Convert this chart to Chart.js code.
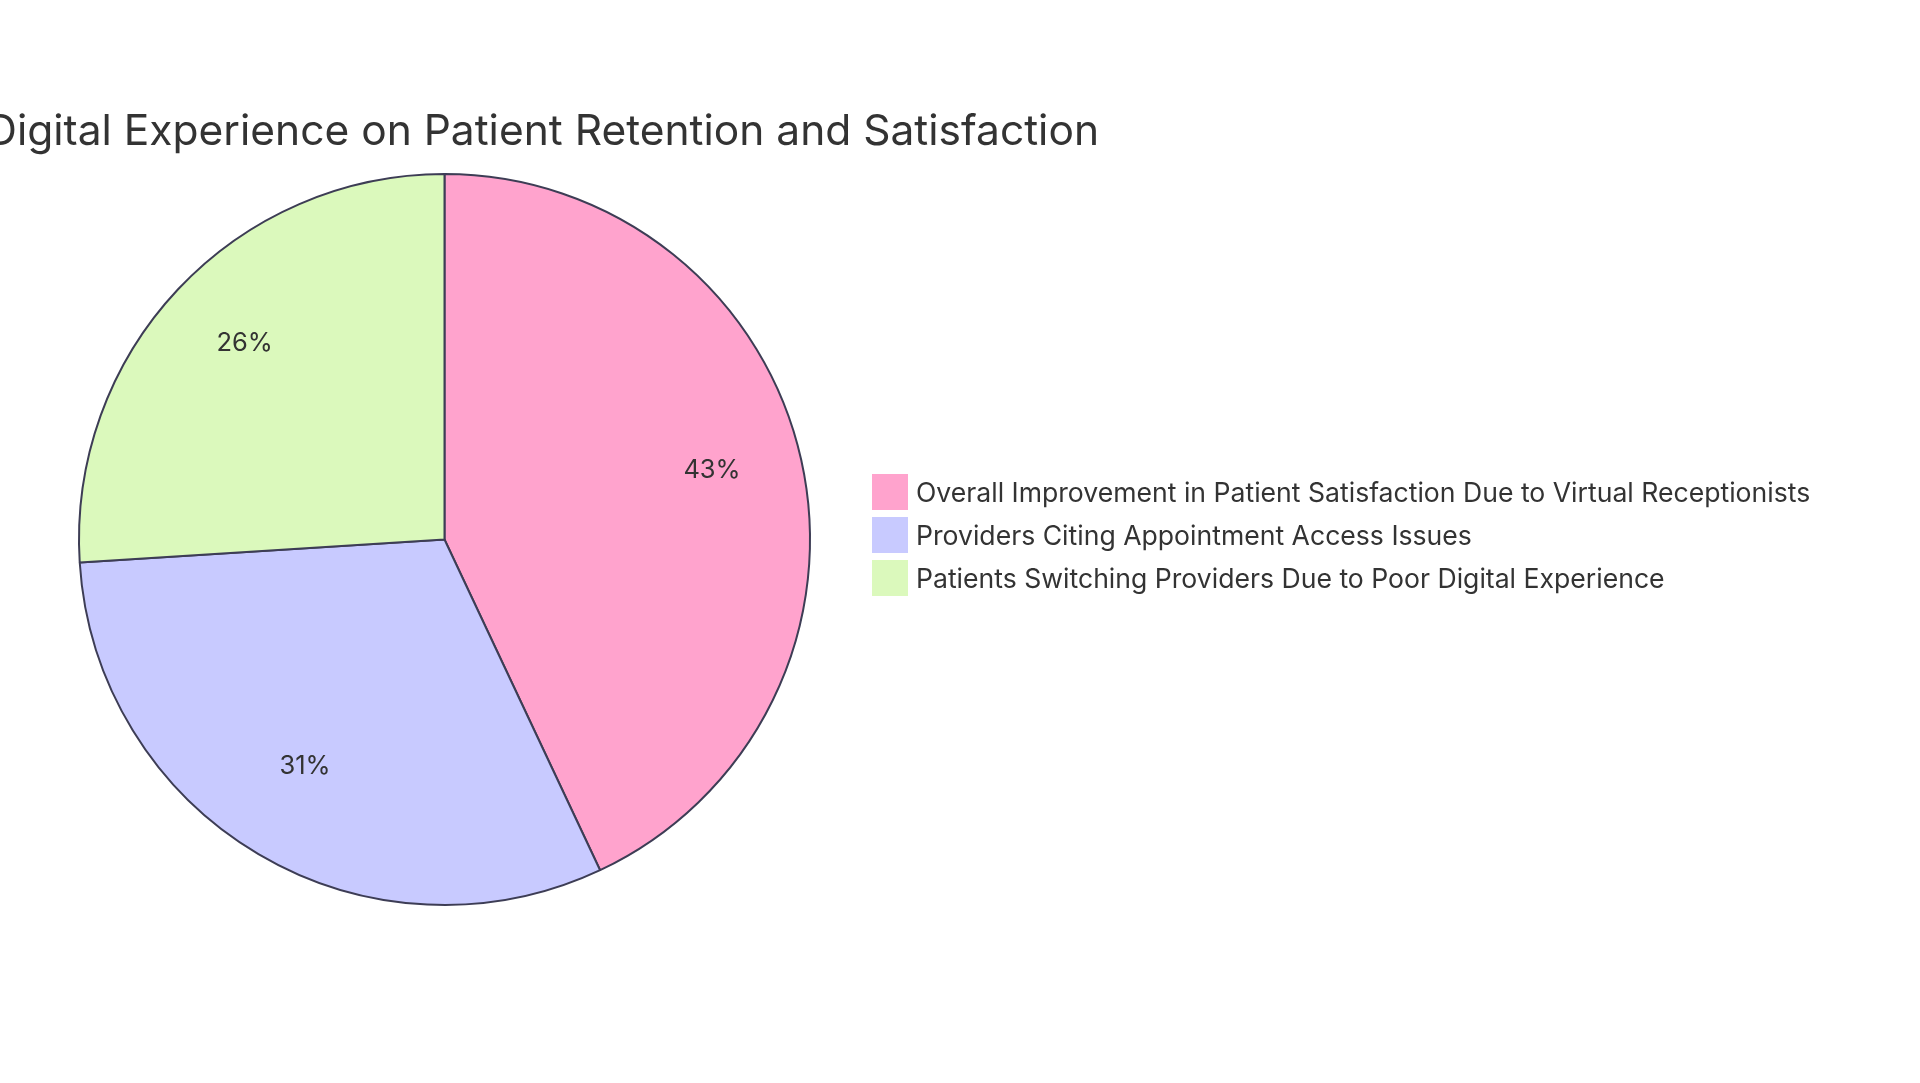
<!DOCTYPE html>
<html>
<head>
<meta charset="utf-8">
<script src="https://cdn.jsdelivr.net/npm/chart.js@4"></script>
<style>
html,body{margin:0;padding:0;background:#fff;}
#wrap{position:relative;width:1920px;height:1083px;}
</style>
</head>
<body>
<div id="wrap"><canvas id="c" width="1920" height="1083"></canvas></div>
<script>
const titleText = "Digital Experience on Patient Retention and Satisfaction";
const categories = [
  "Overall Improvement in Patient Satisfaction Due to Virtual Receptionists",
  "Providers Citing Appointment Access Issues",
  "Patients Switching Providers Due to Poor Digital Experience"
];
const values = [43, 31, 26];
const colors = ["#FFA3CD", "#C8CAFF", "#DBF9BC"];
const FONT = "Inter, 'Noto Sans', sans-serif";
const TEXT = "#333333";

const overlay = {
  id: 'overlay',
  afterDraw(chart) {
    const ctx = chart.ctx;
    const meta = chart.getDatasetMeta(0);
    const total = values.reduce((a, b) => a + b, 0);
    ctx.save();
    // slice labels
    ctx.fillStyle = TEXT;
    ctx.font = "25.5px " + FONT;
    ctx.textAlign = "center";
    ctx.textBaseline = "middle";
    meta.data.forEach((arc, i) => {
      const p = arc.getProps(['x','y','startAngle','endAngle','outerRadius'], true);
      const mid = (p.startAngle + p.endAngle) / 2;
      const r = p.outerRadius * 0.75;
      const pct = Math.round(values[i] / total * 100) + "%";
      ctx.fillText(pct, p.x + Math.cos(mid) * r, p.y + Math.sin(mid) * r - 9);
    });
    // title
    ctx.font = "42.5px " + FONT;
    ctx.textAlign = "right";
    ctx.textBaseline = "middle";
    ctx.fillText(titleText, 1099, 132);
    // legend
    ctx.font = "26.6px " + FONT;
    ctx.textAlign = "left";
    categories.forEach((c, i) => {
      const y = 474 + i * 43;
      ctx.fillStyle = colors[i];
      ctx.fillRect(872, y, 36, 36);
      ctx.fillStyle = TEXT;
      ctx.fillText(c, 916, y + 20);
    });
    ctx.restore();
  }
};

new Chart(document.getElementById('c'), {
  type: 'pie',
  data: {
    labels: categories,
    datasets: [{
      data: values,
      backgroundColor: colors,
      borderColor: "#3D3D55",
      borderWidth: 2
    }]
  },
  options: {
    responsive: false,
    animation: false,
    layout: { padding: { left: 78, right: 1109, top: 173, bottom: 177 } },
    plugins: { legend: { display: false }, tooltip: { enabled: false } }
  },
  plugins: [overlay]
});
</script>
</body>
</html>
